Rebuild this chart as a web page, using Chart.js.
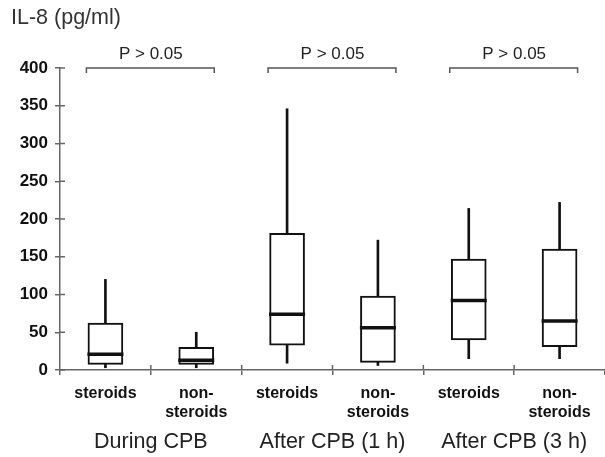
<!DOCTYPE html>
<html>
<head>
<meta charset="utf-8">
<script src="https://cdn.jsdelivr.net/npm/chart.js@4"></script>
<style>
  html, body { margin: 0; padding: 0; background: #fff; }
  #wrap { width: 605px; height: 457px; }
</style>
</head>
<body>
<div id="wrap"><canvas id="chart" width="605" height="457"></canvas></div>
<script>
// Data (IL-8, pg/ml)
const categories = ['steroids', ['non-', 'steroids'], 'steroids', ['non-', 'steroids'], 'steroids', ['non-', 'steroids']];
const groups = ['During CPB', 'After CPB (1 h)', 'After CPB (3 h)'];
const pLabels = ['P > 0.05', 'P > 0.05', 'P > 0.05'];
const mins = [3, 3, 9, 6, 15, 15];
const q1 = [7.5, 7.5, 33, 10, 40, 31];
const medians = [21, 13, 74, 56, 92, 65];
const q3 = [62, 30, 181, 98, 147, 160];
const maxs = [120, 50, 346, 172, 214, 222];
const yTicks = [0, 50, 100, 150, 200, 250, 300, 350, 400];

const INK = '#111';
const AXIS = '#666';
const FONT = '"Liberation Sans", Arial, sans-serif';

// title, group labels, p-value brackets, inner tick marks
const annotations = {
    id: 'annotations',
    afterDraw(chart) {
        const ctx = chart.ctx;
        const x = chart.scales.x;
        const y = chart.scales.y;
        ctx.save();

        ctx.fillStyle = '#333';
        ctx.font = '21.5px ' + FONT;
        ctx.textAlign = 'left';
        ctx.textBaseline = 'middle';
        ctx.fillText('IL-8 (pg/ml)', 11, 18);

        // inner halves of the axis ticks
        ctx.strokeStyle = AXIS;
        ctx.lineWidth = 1.5;
        yTicks.forEach(v => {
            const py = y.getPixelForValue(v);
            ctx.beginPath();
            ctx.moveTo(chart.chartArea.left, py);
            ctx.lineTo(chart.chartArea.left + 5, py);
            ctx.stroke();
        });
        for (let i = 1; i < categories.length; i++) {
            const px = (x.getPixelForValue(i - 1) + x.getPixelForValue(i)) / 2;
            ctx.beginPath();
            ctx.moveTo(px, chart.chartArea.bottom);
            ctx.lineTo(px, chart.chartArea.bottom - 5);
            ctx.stroke();
        }

        groups.forEach((g, gi) => {
            const a = x.getPixelForValue(gi * 2);
            const b = x.getPixelForValue(gi * 2 + 1);
            const mid = (a + b) / 2;

            ctx.fillStyle = '#222';
            ctx.font = '21.5px ' + FONT;
            ctx.textAlign = 'center';
            ctx.textBaseline = 'middle';
            ctx.fillText(g, mid, 442);

            // bracket
            const top = y.getPixelForValue(400);
            ctx.strokeStyle = '#555';
            ctx.lineWidth = 1.5;
            ctx.beginPath();
            ctx.moveTo(a - 19, top + 5);
            ctx.lineTo(a - 19, top);
            ctx.lineTo(b + 18, top);
            ctx.lineTo(b + 18, top + 5);
            ctx.stroke();

            ctx.fillStyle = '#222';
            ctx.font = '17px ' + FONT;
            ctx.fillText(pLabels[gi], mid, top - 14);
        });
        ctx.restore();
    }
};

new Chart(document.getElementById('chart'), {
    data: {
        labels: categories,
        datasets: [
            {
                type: 'line',
                label: 'median',
                data: medians,
                showLine: false,
                pointStyle: 'line',
                pointRadius: 18,
                pointBorderWidth: 3.5,
                pointBorderColor: INK,
                order: 0
            },
            {
                type: 'bar',
                label: 'box',
                data: q1.map((v, i) => [v, q3[i]]),
                backgroundColor: '#fff',
                borderColor: INK,
                borderWidth: 2,
                borderSkipped: false,
                barThickness: 35,
                grouped: false,
                order: 1
            },
            {
                type: 'bar',
                label: 'whisker',
                data: mins.map((v, i) => [v, maxs[i]]),
                backgroundColor: INK,
                borderWidth: 0,
                barThickness: 2,
                grouped: false,
                order: 2
            }
        ]
    },
    options: {
        responsive: false,
        animation: false,
        layout: { autoPadding: false, padding: { top: 68, right: 0, left: 0, bottom: 0 } },
        plugins: {
            legend: { display: false },
            tooltip: { enabled: false }
        },
        scales: {
            x: {
                type: 'category',
                offset: true,
                border: { color: AXIS, width: 1.5 },
                grid: { offset: true, drawOnChartArea: false, tickLength: 5, color: AXIS, lineWidth: 1.5 },
                ticks: {
                    color: INK,
                    font: { family: FONT, size: 16, weight: 'bold' },
                    padding: 9,
                    maxRotation: 0,
                    autoSkip: false
                },
                afterFit(scale) {
                    scale.height = 87;
                    scale.paddingLeft = 0;
                    scale.paddingRight = 0;
                }
            },
            y: {
                min: 0,
                max: 400,
                border: { color: AXIS, width: 1.5 },
                grid: { drawOnChartArea: false, tickLength: 5, color: AXIS, lineWidth: 1.5 },
                ticks: {
                    stepSize: 50,
                    color: INK,
                    font: { family: FONT, size: 17, weight: 'bold' },
                    padding: 7
                },
                afterFit(scale) { scale.width = 60; }
            }
        }
    },
    plugins: [annotations]
});
</script>
</body>
</html>
